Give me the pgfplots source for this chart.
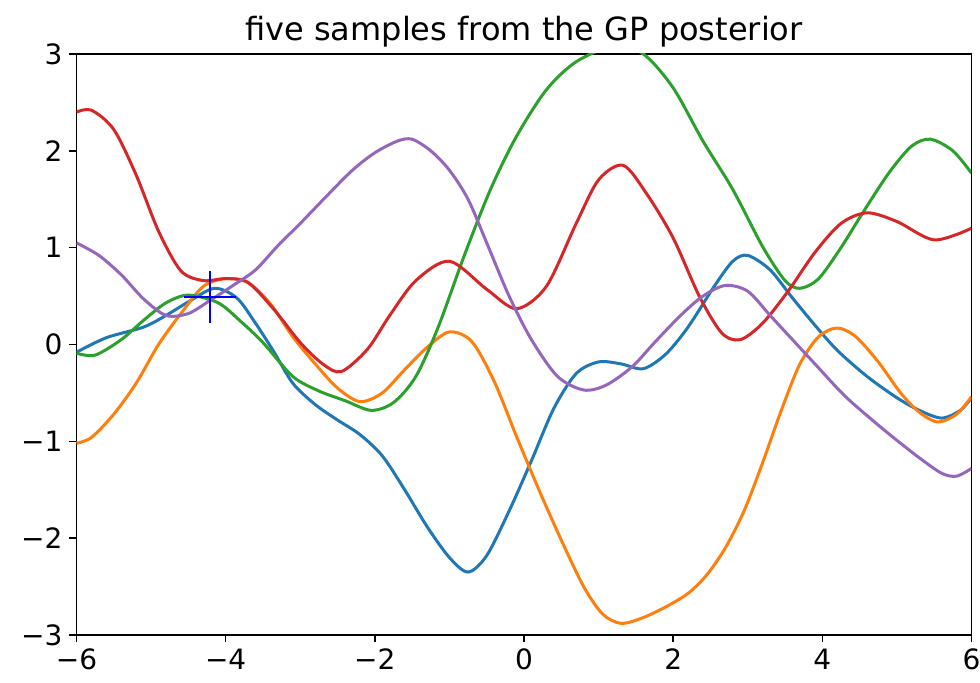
\documentclass[border=0pt]{standalone}
\usepackage{pgfplots}
\pgfplotsset{compat=1.18}
\usepackage{fontspec}
\setmainfont{DejaVu Sans}
\definecolor{c0}{HTML}{1F77B4}
\definecolor{c1}{HTML}{FF7F0E}
\definecolor{c2}{HTML}{2CA02C}
\definecolor{c3}{HTML}{D62728}
\definecolor{c4}{HTML}{9467BD}
\begin{document}
\begin{tikzpicture}
\useasboundingbox (-38.25pt,-24pt) rectangle (451.75pt,317.5pt);
\begin{axis}[
    scale only axis,
    width=447.5pt, height=290.5pt,
    xmin=-6, xmax=6, ymin=-3, ymax=3,
    xtick={-6,-4,...,6},
    xticklabels={−6,−4,−2,0,2,4,6},
    ytick={-3,-2,...,3},
    yticklabels={−3,−2,−1,0,1,2,3},
    tick align=outside,
    major tick length=3.5pt,
    tick style={black, line width=0.8pt},
    axis line style={line width=0.9pt},
    tick pos=left,
    ticklabel style={font=\fontsize{14}{17}\selectfont},
    title={five samples from the GP posterior},
    title style={font=\fontsize{16}{19}\selectfont, yshift=-6pt},
    curve/.style={line width=1.5pt, smooth, mark=none},
]
\addplot[c0, curve] coordinates {(-6,-0.08) (-5.6,0.07) (-5.1,0.18) (-4.8,0.3) (-4.5,0.44) (-4.15,0.58) (-3.85,0.48) (-3.6,0.22) (-3.35,-0.08) (-3.1,-0.40) (-2.8,-0.62) (-2.5,-0.78) (-2.2,-0.93) (-1.9,-1.15) (-1.6,-1.5) (-1.3,-1.88) (-1.0,-2.2) (-0.75,-2.35) (-0.5,-2.18) (-0.2,-1.72) (0.1,-1.2) (0.4,-0.66) (0.7,-0.3) (1.0,-0.18) (1.3,-0.2) (1.6,-0.25) (1.9,-0.1) (2.2,0.18) (2.55,0.6) (2.8,0.86) (3.0,0.92) (3.3,0.77) (3.6,0.48) (3.9,0.2) (4.2,-0.06) (4.6,-0.33) (5.0,-0.55) (5.3,-0.68) (5.6,-0.76) (5.85,-0.68) (6,-0.55)};
\addplot[c1, curve] coordinates {(-6,-1.02) (-5.8,-0.96) (-5.5,-0.72) (-5.2,-0.4) (-4.9,0.0) (-4.6,0.32) (-4.3,0.6) (-4.0,0.68) (-3.7,0.64) (-3.4,0.42) (-3.1,0.08) (-2.8,-0.2) (-2.5,-0.45) (-2.2,-0.59) (-1.9,-0.5) (-1.6,-0.26) (-1.3,-0.03) (-1.0,0.13) (-0.7,0.03) (-0.4,-0.38) (-0.1,-0.95) (0.2,-1.5) (0.5,-2.02) (0.8,-2.5) (1.05,-2.78) (1.3,-2.88) (1.6,-2.82) (1.9,-2.71) (2.2,-2.57) (2.45,-2.38) (2.7,-2.1) (2.95,-1.72) (3.2,-1.22) (3.45,-0.68) (3.7,-0.2) (3.95,0.08) (4.2,0.17) (4.45,0.08) (4.75,-0.18) (5.05,-0.5) (5.3,-0.7) (5.55,-0.8) (5.8,-0.72) (6,-0.54)};
\addplot[c2, curve] coordinates {(-6,-0.09) (-5.75,-0.11) (-5.4,0.05) (-5.1,0.25) (-4.8,0.43) (-4.5,0.51) (-4.1,0.43) (-3.8,0.24) (-3.5,0.02) (-3.1,-0.33) (-2.75,-0.48) (-2.4,-0.58) (-2.05,-0.68) (-1.75,-0.6) (-1.45,-0.33) (-1.15,0.18) (-0.8,0.92) (-0.45,1.6) (-0.1,2.15) (0.3,2.63) (0.7,2.92) (1.2,3.08) (1.6,3.0) (2.0,2.65) (2.4,2.1) (2.8,1.6) (3.2,1.01) (3.5,0.66) (3.7,0.58) (3.95,0.68) (4.25,1.0) (4.55,1.37) (4.9,1.78) (5.2,2.05) (5.45,2.12) (5.75,2.0) (6,1.77)};
\addplot[c3, curve] coordinates {(-6,2.40) (-5.8,2.42) (-5.5,2.22) (-5.2,1.75) (-4.9,1.17) (-4.6,0.76) (-4.3,0.66) (-4.0,0.68) (-3.7,0.64) (-3.35,0.36) (-3.0,0.02) (-2.7,-0.2) (-2.45,-0.28) (-2.1,-0.05) (-1.8,0.3) (-1.45,0.66) (-1.0,0.86) (-0.5,0.57) (-0.1,0.37) (0.3,0.6) (0.7,1.25) (1.0,1.7) (1.33,1.85) (1.65,1.55) (2.0,1.1) (2.35,0.5) (2.65,0.12) (2.9,0.05) (3.2,0.22) (3.55,0.56) (3.9,0.95) (4.25,1.25) (4.6,1.36) (5.0,1.27) (5.5,1.08) (6,1.20)};
\addplot[c4, curve] coordinates {(-6,1.05) (-5.7,0.92) (-5.4,0.72) (-5.1,0.47) (-4.8,0.30) (-4.5,0.32) (-4.2,0.46) (-3.9,0.61) (-3.6,0.77) (-3.3,1.02) (-3.0,1.25) (-2.65,1.53) (-2.3,1.8) (-2.0,1.98) (-1.7,2.1) (-1.5,2.12) (-1.25,2.0) (-1.0,1.8) (-0.75,1.5) (-0.5,1.05) (-0.2,0.5) (0.1,0.05) (0.45,-0.33) (0.8,-0.47) (1.1,-0.42) (1.45,-0.23) (1.75,0.02) (2.1,0.3) (2.4,0.5) (2.7,0.61) (3.0,0.55) (3.3,0.3) (3.6,0.05) (3.9,-0.2) (4.3,-0.53) (4.7,-0.8) (5.0,-0.99) (5.3,-1.17) (5.6,-1.33) (5.8,-1.36) (6,-1.28)};
\addplot[blue, only marks, mark=+, mark size=13pt, mark options={line width=1.2pt, solid}] coordinates {(-4.21,0.49)};
\end{axis}
\end{tikzpicture}
\end{document}
